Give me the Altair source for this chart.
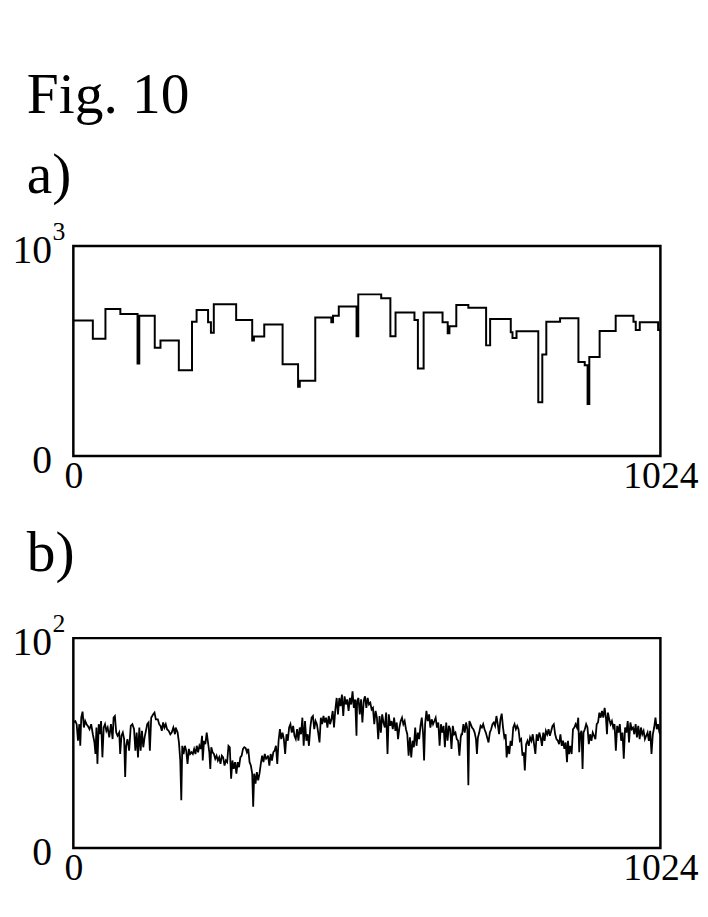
import altair as alt
import pandas as pd

SERIF = "Liberation Serif"

# ---- panel a: step signal (x position, level) ----
a_steps = [(0, 645), (34, 558), (56, 700), (82, 676), (112, 440), (115, 668), (142, 516),
           (152, 550), (184, 409), (207, 640), (215, 695), (235, 637), (240, 587), (245, 723),
           (284, 648), (312, 550), (315, 569), (333, 626), (365, 437), (392, 330), (395, 358),
           (422, 660), (450, 637), (453, 668), (463, 712), (494, 571), (497, 770), (537, 752),
           (553, 571), (562, 684), (595, 648), (601, 417), (611, 684), (644, 637), (653, 585),
           (656, 618), (668, 719), (689, 706), (720, 527), (727, 653), (763, 590), (766, 562),
           (773, 594), (811, 256), (818, 484), (825, 640), (849, 656), (881, 448), (892, 432),
           (897, 248), (900, 472), (918, 596), (946, 668), (977, 640), (981, 600), (988, 637),
           (1020, 600), (1024, 600)]

# ---- panel b: noisy signal, read in six stretches ----
b_seg1 = [(0, 59.8), (3.5, 60.5), (5.8, 59.0), (8.1, 51.1), (10.4, 59.0), (12.1, 48.7), (13.8, 62.1),
          (16.1, 65.0), (18.4, 57.4), (20.7, 60.5), (23.0, 59.0), (25.3, 58.2), (28.2, 56.6), (31.1, 59.0),
          (34.0, 54.2), (36.8, 50.3), (38.6, 44.8), (40.3, 57.4), (42.0, 40.1), (44.3, 59.0), (46.1, 54.2),
          (48.4, 60.5), (50.7, 43.2), (53.0, 57.4), (55.3, 59.0), (57.6, 55.8), (59.9, 57.4), (62.7, 52.7),
          (65.6, 59.0), (68.5, 51.9), (70.2, 62.1), (72.5, 62.9), (74.8, 55.0), (77.1, 53.5), (80.0, 55.0),
          (81.7, 44.8), (84.0, 53.5), (86.3, 55.0), (88.6, 51.9), (90.4, 33.8), (92.1, 48.7), (94.4, 51.9),
          (97.3, 46.4), (100.2, 58.2), (103.0, 59.0), (105.9, 56.6), (108.2, 46.4), (110.5, 55.0),
          (112.8, 43.2), (115.1, 57.4), (117.4, 46.4), (119.7, 55.8), (122.0, 48.0), (124.3, 52.7),
          (126.6, 55.8), (128.9, 59.0), (131.2, 59.8), (133.5, 46.4), (135.8, 62.1), (139.3, 63.7),
          (141.6, 64.5), (143.9, 61.3), (147.4, 61.3), (149.7, 59.0), (152.0, 58.2), (154.3, 55.8),
          (156.6, 59.8), (158.9, 57.4), (161.2, 59.0), (163.5, 56.6), (166.4, 55.8), (169.2, 54.2)]
b_seg2 = [(171.6, 55.0), (174.4, 57.4), (177.3, 54.2), (178.5, 57.4), (181.9, 55.0), (184.2, 50.3),
          (186.5, 41.7), (188.3, 22.8), (190.0, 48.7), (192.3, 44.8), (194.6, 48.7), (196.9, 46.4),
          (199.2, 40.1), (201.5, 47.2), (203.8, 44.8), (206.1, 45.6), (208.4, 44.8), (210.7, 47.2),
          (213.0, 44.8), (215.3, 48.7), (217.6, 45.6), (219.9, 48.7), (222.2, 47.2), (224.5, 53.5),
          (225.7, 41.7), (228.0, 51.1), (230.3, 49.5), (232.6, 55.0), (234.9, 50.3), (237.2, 45.6),
          (238.9, 37.7), (240.6, 48.0), (242.9, 45.6), (245.2, 44.8), (247.5, 42.5), (249.8, 44.0),
          (252.1, 41.7), (254.4, 43.2), (256.7, 40.1), (259.0, 44.0), (261.3, 43.2), (263.7, 39.3),
          (266.0, 41.7), (268.3, 40.9), (270.6, 48.7), (272.9, 48.0), (275.2, 33.0), (277.5, 41.7),
          (279.8, 37.7), (282.1, 40.9), (284.4, 35.4), (286.7, 40.9), (289.0, 38.5), (291.3, 43.2),
          (293.6, 44.0), (295.9, 47.2), (298.2, 48.0), (300.5, 47.6), (302.8, 45.6), (305.1, 47.2),
          (307.4, 40.9), (309.7, 39.3), (312.0, 35.4), (313.7, 19.7), (315.5, 35.4), (317.8, 30.7),
          (320.1, 36.2), (322.4, 32.2), (324.7, 35.4), (327.0, 40.1), (329.3, 44.0), (331.6, 40.9),
          (333.9, 44.8), (336.2, 42.5), (338.5, 43.2)]
b_seg3 = [(339.6, 44.0), (341.9, 39.3), (344.2, 44.8), (346.5, 41.7), (348.8, 45.6), (351.1, 46.4),
          (353.4, 48.7), (355.7, 40.1), (358.0, 51.1), (360.3, 56.6), (362.6, 51.9), (364.9, 55.0),
          (367.2, 51.9), (369.5, 44.8), (371.8, 54.2), (374.1, 51.1), (376.4, 57.4), (378.7, 59.0),
          (381.0, 55.0), (383.4, 58.2), (385.7, 53.5), (388.0, 51.9), (390.3, 56.6), (392.6, 51.1),
          (394.9, 57.4), (397.2, 54.2), (399.5, 62.1), (401.8, 48.7), (404.1, 60.5), (406.4, 51.1),
          (408.7, 54.2), (411.0, 48.7), (413.3, 57.4), (415.6, 62.1), (417.9, 62.9), (420.2, 56.6),
          (422.5, 60.5), (424.8, 59.0), (427.1, 55.0), (429.4, 50.3), (431.7, 62.1), (434.0, 59.0),
          (436.3, 62.9), (438.6, 59.8), (440.9, 62.1), (443.2, 57.4), (445.5, 62.9), (447.8, 59.0),
          (450.1, 61.3), (452.4, 65.3), (454.7, 57.4), (457.0, 66.0), (459.3, 71.5), (461.6, 63.7),
          (463.9, 71.5), (466.2, 67.6), (468.5, 73.1), (470.8, 62.9), (473.1, 72.3), (475.4, 68.4),
          (477.7, 70.8), (480.1, 65.3), (482.4, 71.5), (484.7, 68.4), (487.0, 74.7), (489.3, 66.8),
          (491.6, 70.8), (493.9, 53.5), (495.0, 70.0), (497.3, 71.5), (499.6, 63.7), (501.9, 70.8),
          (504.2, 59.8), (506.5, 70.0), (507.7, 71.5)]
b_seg4 = [(508.8, 72.3), (511.1, 66.8), (513.4, 71.5), (515.7, 68.4), (518.0, 69.2), (520.3, 66.0),
          (522.6, 66.8), (524.9, 59.0), (527.2, 65.3), (529.5, 62.1), (531.8, 51.9), (534.1, 62.9),
          (536.4, 55.0), (538.7, 63.7), (541.0, 59.8), (543.3, 57.4), (545.6, 64.5), (548.0, 44.8),
          (550.2, 63.7), (552.6, 58.2), (554.9, 60.5), (557.2, 56.6), (559.5, 62.1), (561.8, 55.8),
          (564.1, 59.8), (566.4, 51.9), (568.7, 57.4), (571.0, 60.5), (573.3, 62.1), (575.6, 59.0),
          (577.9, 60.5), (580.2, 56.6), (582.5, 54.2), (584.8, 44.0), (587.1, 52.7), (589.4, 43.2),
          (591.7, 51.1), (594.0, 48.0), (596.3, 57.4), (598.6, 48.7), (600.9, 55.0), (603.2, 51.9),
          (605.5, 58.2), (607.8, 62.1), (610.1, 54.2), (611.8, 41.7), (613.6, 59.0), (615.9, 65.3),
          (618.2, 60.5), (620.5, 63.7), (622.8, 57.4), (625.1, 61.3), (627.4, 59.0), (629.7, 60.5),
          (632.0, 62.1), (634.3, 57.4), (636.6, 59.8), (638.9, 48.7), (641.2, 59.0), (643.5, 55.0),
          (645.8, 58.2), (648.1, 48.0), (650.4, 59.8), (652.7, 51.1), (655.0, 58.2), (657.3, 56.6),
          (659.6, 47.2), (661.9, 58.2), (664.2, 54.2), (666.5, 55.0), (668.8, 51.9), (671.1, 51.1),
          (673.4, 44.0), (675.7, 52.7), (676.9, 54.2)]
b_seg5 = [(678.1, 54.2), (680.4, 59.0), (682.7, 55.0), (685.0, 59.8), (687.3, 56.6), (689.0, 29.9),
          (690.8, 60.5), (693.1, 59.0), (695.4, 57.4), (697.7, 56.6), (700.0, 55.0), (702.3, 51.9),
          (704.0, 44.8), (705.7, 52.7), (708.0, 55.0), (710.3, 58.2), (712.6, 57.4), (714.9, 59.0),
          (717.2, 56.6), (719.5, 55.0), (721.8, 52.7), (724.2, 50.3), (726.5, 55.0), (728.8, 56.6),
          (731.1, 59.0), (733.4, 59.8), (735.7, 58.2), (738.0, 62.9), (740.3, 59.0), (742.6, 54.2),
          (744.9, 61.3), (747.2, 64.0), (749.5, 57.4), (751.8, 52.7), (754.1, 54.2), (755.8, 43.2),
          (758.1, 48.7), (760.4, 44.8), (762.7, 51.1), (765.0, 48.7), (767.3, 57.4), (769.6, 59.0),
          (771.9, 56.6), (774.2, 58.2), (776.5, 56.6), (778.8, 51.1), (781.1, 51.9), (783.4, 44.0),
          (785.7, 45.6), (787.5, 37.0), (789.8, 49.5), (792.1, 51.1), (794.4, 48.7), (796.7, 52.7),
          (799.0, 51.1), (801.3, 54.2), (803.6, 49.5), (805.9, 44.8), (808.2, 54.2), (810.5, 51.1),
          (812.8, 55.0), (815.1, 52.7), (817.4, 48.7), (819.7, 55.0), (822.0, 51.1), (824.3, 55.8),
          (826.6, 54.2), (828.9, 56.6), (831.2, 53.5), (833.5, 55.8), (835.8, 58.2), (838.1, 59.0),
          (840.4, 54.2), (842.7, 51.9), (845.0, 51.1), (846.2, 50.3)]
b_seg6 = [(847.3, 49.5), (849.6, 54.2), (851.9, 48.7), (854.2, 51.1), (856.5, 47.2), (858.8, 50.3),
          (861.1, 40.9), (862.8, 51.1), (864.6, 44.8), (866.9, 48.7), (869.2, 44.8), (871.5, 56.6),
          (873.8, 57.4), (876.1, 59.0), (878.4, 57.4), (880.7, 62.1), (882.4, 45.6), (884.1, 54.2),
          (886.4, 55.8), (888.2, 37.7), (889.9, 55.0), (892.2, 56.6), (894.5, 59.0), (896.8, 57.4),
          (899.1, 49.5), (901.4, 54.2), (903.7, 51.1), (906.0, 55.0), (908.3, 53.5), (910.6, 51.9),
          (912.9, 59.0), (915.2, 59.8), (917.5, 64.5), (919.8, 62.1), (922.1, 65.3), (924.4, 62.1),
          (926.7, 66.8), (929.0, 62.1), (930.8, 54.2), (932.5, 64.5), (934.8, 61.3), (937.1, 59.0),
          (939.4, 60.5), (941.7, 57.4), (944.0, 59.0), (946.3, 46.4), (948.6, 58.2), (950.9, 55.0),
          (953.2, 59.0), (955.5, 51.1), (957.9, 55.0), (960.1, 42.5), (962.4, 57.4), (964.7, 55.0),
          (967.0, 60.5), (969.3, 50.3), (971.6, 59.8), (973.9, 56.6), (976.2, 57.4), (978.5, 54.2),
          (980.8, 59.0), (983.1, 52.7), (985.4, 58.2), (987.8, 51.9), (990.1, 57.4), (992.4, 54.2),
          (994.7, 55.8), (997.0, 51.9), (999.3, 53.5), (1001.6, 55.0), (1003.9, 51.1), (1006.2, 55.8),
          (1008.5, 44.8), (1010.8, 54.2), (1013.1, 57.4), (1015.4, 62.1), (1017.7, 56.6), (1020.0, 59.0),
          (1022.3, 55.0), (1024.0, 54.0)]

x_ticks = [0, 1024]
a_ymax, a_exp = 1000, "3"
b_ymax, b_exp = 100, "2"

df_a = pd.DataFrame(a_steps, columns=["x", "y"])
df_b = pd.DataFrame(b_seg1 + b_seg2 + b_seg3 + b_seg4 + b_seg5 + b_seg6, columns=["x", "y"])


def panel(df, ymax, exp, title_text, title_offset, stroke_w, interp):
    x = alt.X("x:Q", scale=alt.Scale(domain=[0, 1024], nice=False, zero=False),
              axis=alt.Axis(values=x_ticks, title=None, grid=False, ticks=False, domain=False,
                            labelFont=SERIF, labelFontSize=38, labelPadding=2,
                            labelFlush=False, labelColor="black", format="d"))
    y = alt.Y("y:Q", scale=alt.Scale(domain=[0, ymax], nice=False),
              axis=alt.Axis(values=[0, ymax], title=None, grid=False, ticks=False, domain=False,
                            labelFont=SERIF, labelFontSize=40, labelPadding=22, labelOffset=5,
                            labelExpr="datum.value == 0 ? '0' : '10'", labelColor="black"))
    line = alt.Chart(df).mark_line(color="black", strokeWidth=stroke_w,
                                   interpolate=interp).encode(x=x, y=y)
    sup = alt.Chart(pd.DataFrame({"x": [0], "y": [ymax], "t": [exp]})).mark_text(
        font=SERIF, fontSize=26, align="left", baseline="top", dx=-21, dy=-27, color="black"
    ).encode(x="x:Q", y="y:Q", text="t:N")
    return alt.layer(line, sup).properties(
        width=593, height=212,
        title=alt.TitleParams(text=title_text, anchor="start", frame="group", dx=-47,
                              font=SERIF, fontSize=58, fontWeight="normal", lineHeight=80,
                              offset=title_offset, color="black"),
    )


pa = panel(df_a, a_ymax, a_exp, ["Fig. 10", "a)"], 15, 2, "step-after")
pb = panel(df_b, b_ymax, b_exp, "b)", 29, 1.8, "linear")

chart = alt.vconcat(pa, pb, spacing=26).properties(
    padding={"top": 54, "left": 2, "right": 0, "bottom": 5}
).configure_view(stroke="black", strokeWidth=2.5)

chart.save("out.html", embed_options={"renderer": "svg", "actions": False})
